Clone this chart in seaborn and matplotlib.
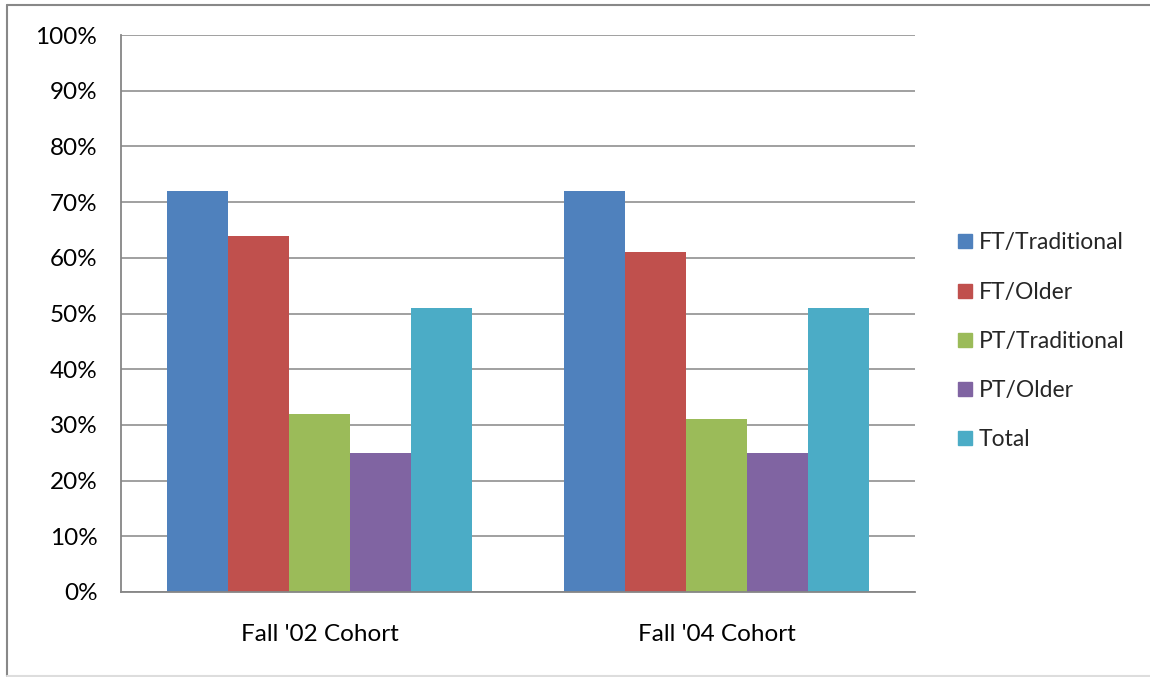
import numpy as np
import pandas as pd
import matplotlib
matplotlib.use("Agg")
import matplotlib.pyplot as plt
import seaborn as sns
from matplotlib.lines import Line2D
from matplotlib.ticker import FixedLocator, PercentFormatter

sns.set_style("white")
plt.rcParams['font.family'] = ['Lato', 'DejaVu Sans']

cohorts = ["Fall '02 Cohort", "Fall '04 Cohort"]
groups = ["FT/Traditional", "FT/Older", "PT/Traditional", "PT/Older", "Total"]
fall02 = [72, 64, 32, 25, 51]
fall04 = [72, 61, 31, 25, 51]
colors = ["#4F81BD", "#C0504D", "#9BBB59", "#8064A2", "#4BACC6"]

rows = []
for cohort, vals in zip(cohorts, [fall02, fall04]):
    for g, v in zip(groups, vals):
        rows.append({"cohort": cohort, "group": g, "rate": v})
df = pd.DataFrame(rows)

fig = plt.figure(figsize=(11.5, 6.77), dpi=100)
ax = fig.add_axes([121 / 1150, 1 - 592 / 677, 794 / 1150, 557 / 677])

sns.barplot(data=df, x="cohort", y="rate", hue="group", hue_order=groups,
            palette=colors, width=0.77, saturation=1, ax=ax, legend=False,
            edgecolor="none", linewidth=0, gap=0)

grid_c = "#868686"
fs = 17.5
ax.set_ylim(0, 100)
ax.set_xlim(-0.5, 1.5)
ax.set_yticks(np.arange(0, 101, 10))
ax.yaxis.set_major_formatter(PercentFormatter(decimals=0))
ax.yaxis.grid(True, color=grid_c, linewidth=1.1)
ax.set_axisbelow(True)
ax.set_xlabel("")
ax.set_ylabel("")
for s in ["top", "right"]:
    ax.spines[s].set_visible(False)
for s in ["left", "bottom"]:
    ax.spines[s].set_color(grid_c)
    ax.spines[s].set_linewidth(1.3)

ax.xaxis.set_minor_locator(FixedLocator([-0.5, 0.5, 1.5]))
ax.tick_params(axis="x", which="major", length=0, pad=23, labelsize=fs, colors="black")
ax.tick_params(axis="x", which="minor", length=6, width=1.3, color=grid_c, direction="out")
ax.tick_params(axis="y", length=6, width=1.3, color=grid_c, direction="out",
               pad=11, labelsize=fs, labelcolor="black")

handles = [Line2D([0], [0], marker="s", linestyle="none", markersize=10,
                  markerfacecolor=c, markeredgecolor=c) for c in colors]
ax.legend(handles, groups, loc="center left", bbox_to_anchor=(1.043, 0.45),
          frameon=False, fontsize=16.5, handlelength=0.6, handletextpad=0.3,
          labelspacing=1.23, borderaxespad=0)

# outer chart frame
fig.add_artist(Line2D([7 / 1150, 7 / 1150], [1 - 676 / 677, 1 - 5 / 677],
                      transform=fig.transFigure, color="#888888", linewidth=1.5))
fig.add_artist(Line2D([7 / 1150, 1], [1 - 5 / 677, 1 - 5 / 677],
                      transform=fig.transFigure, color="#888888", linewidth=1.5))
fig.add_artist(Line2D([7 / 1150, 1], [1 - 676 / 677, 1 - 676 / 677],
                      transform=fig.transFigure, color="#dddddd", linewidth=1.5))

fig.savefig("out.png", dpi=100)
